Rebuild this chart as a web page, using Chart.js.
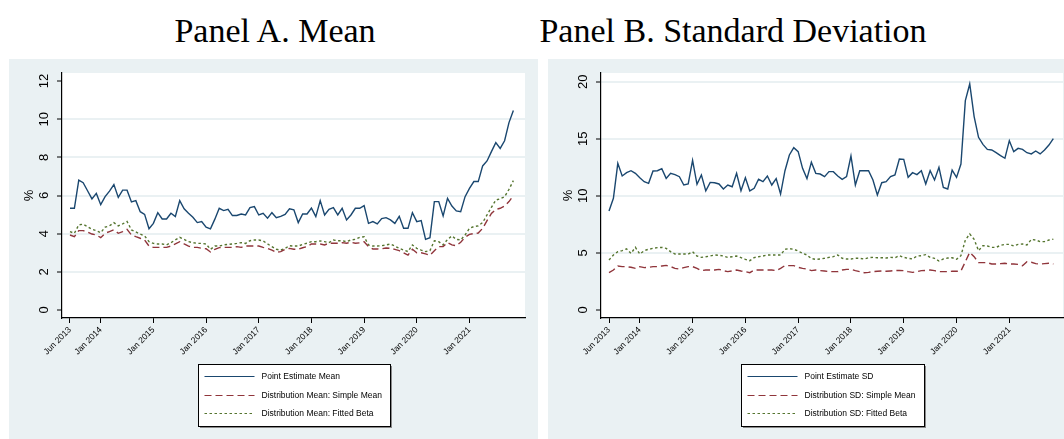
<!DOCTYPE html>
<html>
<head>
<meta charset="utf-8">
<script src="https://cdn.jsdelivr.net/npm/chart.js@4.4.1/dist/chart.umd.min.js"></script>
<style>
  body { margin: 0; background: #fff; width: 1064px; height: 439px; overflow: hidden; position: relative; }
  .title { position: absolute; top: 14px; font-family: "Liberation Serif", "Times New Roman", serif; font-size: 34px; line-height: 34px; color: #000; white-space: nowrap; transform: translateX(-50%); }
  .panel { position: absolute; top: 59px; background: #eaf1f3; }
  canvas { display: block; }
</style>
</head>
<body>
<div class="title" style="left:275px">Panel A. Mean</div>
<div class="title" style="left:733px">Panel B. Standard Deviation</div>
<div class="panel" style="left:9px"><canvas id="chartMean" width="529" height="380"></canvas></div>
<div class="panel" style="left:548px"><canvas id="chartSD" width="516" height="380"></canvas></div>
<script>
// Monthly series, Jun 2013 (month 0) to Nov 2021 (month 101)
const tickMonths = [0, 7, 19, 31, 43, 55, 67, 79, 91];
const tickLabels = ["Jun 2013", "Jan 2014", "Jan 2015", "Jan 2016", "Jan 2017", "Jan 2018", "Jan 2019", "Jan 2020", "Jan 2021"];

const meanPoint = [5.33, 5.33, 6.81, 6.67, 6.25, 5.82, 6.11, 5.52, 5.94, 6.23, 6.57, 5.9, 6.28, 6.28, 5.66, 5.73, 5.15, 5.01, 4.26, 4.54,
  5.1, 4.77, 4.77, 5.07, 4.9, 5.73, 5.3, 5.07, 4.86, 4.58, 4.63, 4.34, 4.25, 4.76, 5.33, 5.21, 5.28, 4.95, 4.95, 5.03,
  4.98, 5.37, 5.42, 4.98, 5.07, 4.81, 5.1, 4.84, 4.91, 5.01, 5.3, 5.25, 4.58, 5.03, 5.03, 5.34, 4.89, 5.73, 4.98, 5.28,
  5.36, 4.98, 5.33, 4.72, 4.98, 5.33, 5.33, 5.47, 4.54, 4.63, 4.51, 4.79, 4.84, 4.72, 4.54, 4.91, 4.28, 4.28, 5.1, 4.63,
  4.68, 3.7, 3.79, 5.68, 5.68, 4.93, 5.85, 5.45, 5.19, 5.15, 5.94, 6.37, 6.73, 6.73, 7.55, 7.81, 8.3, 8.77, 8.47, 8.87,
  9.82, 10.45];
const meanSimple = [3.93, 3.84, 4.16, 4.16, 4.09, 3.98, 3.93, 3.79, 4.02, 4.11, 4.2, 4.02, 4.11, 4.23, 3.93, 3.84, 3.76, 3.67, 3.35, 3.28,
  3.28, 3.28, 3.28, 3.35, 3.46, 3.58, 3.46, 3.35, 3.28, 3.28, 3.23, 3.21, 3.04, 3.18, 3.27, 3.28, 3.28, 3.28, 3.32, 3.28,
  3.35, 3.35, 3.35, 3.35, 3.28, 3.23, 3.14, 3.02, 3.06, 3.18, 3.23, 3.18, 3.18, 3.26, 3.32, 3.46, 3.46, 3.46, 3.41, 3.5,
  3.5, 3.5, 3.53, 3.5, 3.55, 3.5, 3.52, 3.58, 3.32, 3.2, 3.2, 3.21, 3.25, 3.23, 3.18, 3.11, 3.0, 2.88, 3.18, 3.0,
  3.0, 2.94, 2.87, 3.11, 3.32, 3.32, 3.53, 3.41, 3.37, 3.55, 3.81, 3.96, 4.01, 4.03, 4.28, 4.68, 5.06, 5.27, 5.33, 5.45,
  5.68, 5.99];
const meanBeta = [4.11, 4.02, 4.46, 4.5, 4.37, 4.23, 4.16, 4.05, 4.34, 4.41, 4.58, 4.41, 4.51, 4.64, 4.2, 4.09, 3.98, 3.88, 3.58, 3.49,
  3.46, 3.46, 3.41, 3.53, 3.67, 3.81, 3.7, 3.58, 3.53, 3.49, 3.49, 3.46, 3.18, 3.35, 3.35, 3.41, 3.44, 3.46, 3.49, 3.53,
  3.49, 3.63, 3.67, 3.67, 3.62, 3.46, 3.32, 3.18, 3.14, 3.23, 3.37, 3.35, 3.35, 3.44, 3.5, 3.58, 3.58, 3.62, 3.58, 3.53,
  3.67, 3.63, 3.63, 3.58, 3.67, 3.7, 3.81, 3.84, 3.41, 3.35, 3.35, 3.37, 3.41, 3.46, 3.35, 3.23, 3.14, 3.06, 3.41, 3.23,
  3.14, 3.06, 3.11, 3.63, 3.58, 3.41, 3.7, 3.88, 3.7, 3.67, 3.93, 4.28, 4.37, 4.41, 4.58, 4.98, 5.38, 5.76, 5.83, 5.94,
  6.32, 6.78];

const sdPoint = [8.67, 9.78, 12.85, 11.74, 12.03, 12.2, 11.97, 11.59, 11.24, 11.1, 12.18, 12.2, 12.38, 11.53, 11.97, 11.86, 11.68, 10.95, 11.04, 13.1,
  11.01, 11.83, 10.43, 11.18, 11.15, 11.04, 10.6, 10.95, 10.8, 11.97, 10.45, 11.59, 10.43, 10.66, 11.45, 11.24, 11.74, 10.95, 11.51, 10.16,
  12.2, 13.58, 14.22, 13.87, 12.41, 11.51, 12.94, 11.97, 11.91, 11.68, 12.12, 12.12, 11.74, 11.45, 11.68, 13.49, 10.95, 12.2, 12.2, 12.2,
  11.39, 10.07, 11.15, 11.24, 11.68, 11.83, 13.23, 13.2, 11.62, 12.03, 11.86, 12.2, 11.04, 12.2, 11.39, 12.5, 10.74, 10.6, 12.26, 11.62,
  12.79, 18.34, 19.8, 16.94, 15.13, 14.51, 14.07, 14.02, 13.78, 13.52, 13.29, 14.83, 13.87, 14.16, 14.07, 13.78, 13.67, 13.93, 13.67, 14.02,
  14.45, 15.01];
const sdSimple = [3.27, 3.5, 3.86, 3.8, 3.8, 3.74, 3.65, 3.8, 3.71, 3.74, 3.8, 3.8, 3.86, 3.91, 3.8, 3.65, 3.59, 3.71, 3.8, 3.8,
  3.65, 3.45, 3.5, 3.5, 3.5, 3.56, 3.45, 3.36, 3.42, 3.5, 3.42, 3.36, 3.27, 3.5, 3.5, 3.5, 3.5, 3.5, 3.45, 3.65,
  3.89, 3.89, 3.89, 3.74, 3.65, 3.59, 3.45, 3.5, 3.45, 3.42, 3.36, 3.36, 3.36, 3.5, 3.56, 3.56, 3.45, 3.36, 3.27, 3.3,
  3.36, 3.39, 3.42, 3.39, 3.42, 3.45, 3.47, 3.45, 3.36, 3.3, 3.36, 3.45, 3.47, 3.5, 3.45, 3.36, 3.36, 3.36, 3.39, 3.39,
  3.42, 4.23, 5.05, 4.67, 4.15, 4.15, 4.15, 4.03, 4.03, 4.06, 4.09, 4.03, 4.03, 4.0, 3.88, 4.23, 4.18, 4.06, 4.03, 4.06,
  4.09, 4.03];
const sdBeta = [4.38, 4.82, 5.11, 5.2, 5.35, 4.96, 5.49, 4.9, 5.2, 5.32, 5.4, 5.46, 5.49, 5.4, 5.11, 4.9, 4.9, 4.9, 4.9, 5.11,
  4.73, 4.61, 4.67, 4.73, 4.82, 4.79, 4.73, 4.61, 4.67, 4.73, 4.59, 4.44, 4.32, 4.59, 4.67, 4.73, 4.82, 4.82, 4.82, 4.82,
  5.32, 5.37, 5.32, 5.17, 4.96, 4.82, 4.5, 4.44, 4.47, 4.53, 4.61, 4.67, 4.82, 4.53, 4.47, 4.47, 4.53, 4.53, 4.47, 4.58,
  4.61, 4.58, 4.58, 4.55, 4.61, 4.58, 4.76, 4.61, 4.53, 4.47, 4.73, 4.76, 4.85, 4.61, 4.53, 4.29, 4.47, 4.55, 4.58, 4.44,
  4.76, 6.13, 6.66, 6.19, 5.2, 5.64, 5.61, 5.49, 5.49, 5.66, 5.75, 5.75, 5.61, 5.75, 5.78, 5.69, 6.19, 6.13, 5.99, 5.99,
  6.13, 6.2];

const meanLabels = ["Point Estimate Mean", "Distribution Mean: Simple Mean", "Distribution Mean: Fitted Beta"];
const sdLabels = ["Point Estimate SD", "Distribution SD: Simple Mean", "Distribution SD: Fitted Beta"];

const meanTicks = [0, 2, 4, 6, 8, 10, 12];
const sdTicks = [0, 5, 10, 15, 20];

const sansFont = "'Liberation Sans', Arial, sans-serif";
const lineColors = ["#1a476f", "#90353b", "#55752f"];
const lineDashes = [[], [7, 4], [2.5, 2.5]];

// Function to turn a value list into x/y points by month index
function toPoints(values) {
  return values.map((v, i) => ({ x: i, y: v }));
}

// Plugin that draws the boxed legend below the plot
const boxLegend = {
  id: "boxLegend",
  afterDraw(chart) {
    const ctx = chart.ctx;
    const area = chart.chartArea;
    const sets = chart.data.datasets;
    ctx.save();
    ctx.font = "8.5px " + sansFont;
    let textW = 0;
    sets.forEach(ds => { textW = Math.max(textW, ctx.measureText(ds.label).width); });
    const boxW = Math.round(63 + textW + 9);
    const boxH = 62;
    const left = Math.round((area.left + area.right) / 2 - boxW / 2) + 0.5;
    const top = 305.5;
    ctx.fillStyle = "#8a8a8a";
    ctx.fillRect(left + 1.5, top + 1.5, boxW, boxH);
    ctx.fillStyle = "#fff";
    ctx.fillRect(left, top, boxW, boxH);
    ctx.strokeStyle = "#000";
    ctx.lineWidth = 1;
    ctx.strokeRect(left, top, boxW, boxH);
    const rows = [12, 31, 49];
    sets.forEach((ds, k) => {
      const y = top + rows[k];
      ctx.beginPath();
      ctx.setLineDash(ds.borderDash || []);
      ctx.strokeStyle = ds.borderColor;
      ctx.lineWidth = 1.2;
      ctx.moveTo(left + 6, y);
      ctx.lineTo(left + 56, y);
      ctx.stroke();
      ctx.setLineDash([]);
      ctx.fillStyle = "#000";
      ctx.textBaseline = "middle";
      ctx.textAlign = "left";
      ctx.fillText(ds.label, left + 63, y);
    });
    ctx.restore();
  }
};

// Function to create one panel
function createPanel(canvasId, series, labels, yMin, yMax, yTicks, gridTicks, xMax, rightPad) {
  const ctx = document.getElementById(canvasId).getContext("2d");
  const datasets = series.map((values, k) => ({
    label: labels[k],
    data: toPoints(values),
    borderColor: lineColors[k],
    borderWidth: 1.4,
    borderDash: lineDashes[k],
    pointRadius: 0,
    tension: 0,
    fill: false
  }));

  return new Chart(ctx, {
    type: "line",
    data: { datasets: datasets },
    plugins: [boxLegend, {
      id: "plotBg",
      beforeDraw(chart) {
        const a = chart.chartArea;
        chart.ctx.save();
        chart.ctx.fillStyle = "#fff";
        chart.ctx.fillRect(a.left, a.top, a.right - a.left, a.bottom - a.top);
        chart.ctx.restore();
      }
    }],
    options: {
      responsive: false,
      devicePixelRatio: 1,
      animation: false,
      layout: { padding: { left: 0, top: 14, right: rightPad, bottom: 0 } },
      plugins: {
        legend: { display: false },
        tooltip: { enabled: false },
        title: { display: false }
      },
      scales: {
        x: {
          type: "linear",
          min: -1.82,
          max: xMax,
          afterBuildTicks: s => { s.ticks = tickMonths.map(v => ({ value: v })); },
          afterFit: s => { s.height = 121; },
          border: { display: true, color: "#000", width: 1.2 },
          grid: { drawOnChartArea: false, drawTicks: true, tickLength: 5, tickColor: "#000", tickWidth: 1 },
          ticks: {
            autoSkip: false,
            minRotation: 45,
            maxRotation: 45,
            padding: 2,
            color: "#000",
            font: { family: sansFont, size: 8.5 },
            callback: v => tickLabels[tickMonths.indexOf(v)]
          }
        },
        y: {
          type: "linear",
          min: yMin,
          max: yMax,
          afterBuildTicks: s => { s.ticks = yTicks.map(v => ({ value: v })); },
          afterFit: s => { s.width = 53; },
          border: { display: true, color: "#000", width: 1.2 },
          grid: {
            color: c => (c.tick && gridTicks.includes(c.tick.value)) ? "#eaf1f3" : "rgba(0,0,0,0)",
            lineWidth: 2,
            drawTicks: true,
            tickLength: 5,
            tickColor: "#000",
            tickWidth: 1
          },
          ticks: {
            minRotation: 90,
            maxRotation: 90,
            crossAlign: "center",
            padding: 5,
            color: "#000",
            font: { family: sansFont, size: 13 }
          },
          title: {
            display: true,
            text: "%",
            color: "#000",
            font: { family: sansFont, size: 13 },
            padding: { top: 13, bottom: 0 }
          }
        }
      }
    }
  });
}

createPanel("chartMean", [meanPoint, meanSimple, meanBeta], meanLabels, -0.42, 12.42, meanTicks, [2, 4, 6, 8, 10], 103.65, 13);
createPanel("chartSD", [sdPoint, sdSimple, sdBeta], sdLabels, -0.7, 20.76, sdTicks, [5, 10, 15, 20], 103.2, 1);
</script>
</body>
</html>
